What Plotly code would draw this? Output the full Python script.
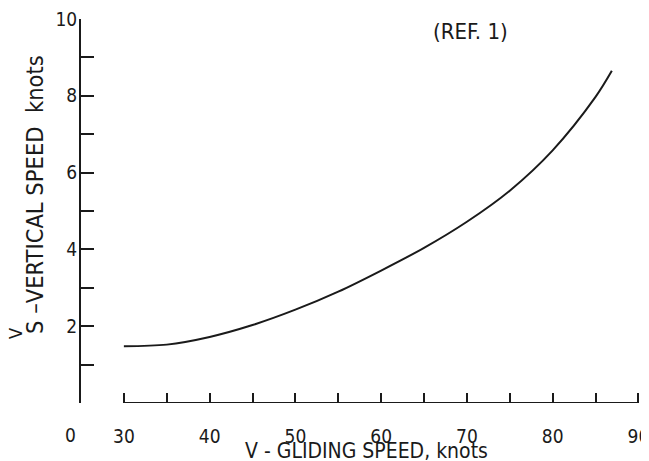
import plotly.graph_objects as go

# Data
glide_speed = [30, 35, 40, 45, 50, 55, 60, 65, 70, 75, 80, 85, 86.9]
vertical_speed = [1.48, 1.52, 1.72, 2.03, 2.43, 2.9, 3.45, 4.04, 4.72, 5.53, 6.58, 7.97, 8.65]

x_tickvals = [30, 35, 40, 45, 50, 55, 60, 65, 70, 75, 80, 85, 90]
x_ticktext = ["30", "", "40", "", "50", "", "60", "", "70", "", "80", "", "90"]
y_tickvals = [0, 1, 2, 3, 4, 5, 6, 7, 8, 9, 10]
y_ticktext = ["", "", "2", "", "4", "", "6", "", "8", "", "10"]

FONT = "Liberation Sans Narrow, DejaVu Sans Condensed, Arial Narrow, sans-serif"
INK = "#1a1a1a"

# the page body adds an 8 px margin, so the figure is sized to fit the window
W, H = 641, 453
ML, MR, MT, MB = 73, 2, 11, 58
PW = W - ML - MR  # plot width in px
PH = H - MT - MB  # plot height in px
X0, Y0 = 81, 403  # window px of plot-area left / bottom edges


def px(wx):
    return (wx - X0) / PW


def py(wy):
    return (Y0 - wy) / PH


fig = go.Figure()
fig.add_trace(go.Scatter(
    x=glide_speed, y=vertical_speed, mode="lines",
    line=dict(color=INK, width=2, shape="spline", smoothing=0.9),
    showlegend=False, hoverinfo="skip",
))

# broken x-axis line starting at 30
fig.add_shape(type="line", xref="x", yref="y", x0=30, x1=90, y0=0, y1=0,
              line=dict(color=INK, width=2))

fig.update_xaxes(
    range=[25, 91], showgrid=False, zeroline=False, showline=False,
    automargin=False,
    tickmode="array", tickvals=x_tickvals, ticktext=x_ticktext,
    ticks="inside", ticklen=10, tickwidth=1.5, tickcolor=INK,
    ticklabelstandoff=20, ticklabeloverflow="allow",
    tickfont=dict(family=FONT, size=19, color=INK),
)
fig.update_yaxes(
    range=[0, 10], showgrid=False, zeroline=False,
    automargin=False,
    showline=True, linecolor=INK, linewidth=2,
    tickmode="array", tickvals=y_tickvals, ticktext=y_ticktext,
    ticks="inside", ticklen=13, tickwidth=1.5, tickcolor=INK,
    ticklabelstandoff=-2, ticklabeloverflow="allow",
    tickfont=dict(family=FONT, size=19, color=INK),
)

# origin label "0"
fig.add_annotation(text="0", xref="paper", yref="paper", x=px(70), y=0,
                   yshift=-32, showarrow=False, xanchor="center", yanchor="middle",
                   font=dict(family=FONT, size=19, color=INK))
# x-axis title
fig.add_annotation(text="V - GLIDING SPEED, knots", xref="paper", yref="paper",
                   x=px(366), y=py(451),
                   showarrow=False, xanchor="center", yanchor="middle",
                   font=dict(family=FONT, size=21, color=INK))
# y-axis title (typewriter style: V raised, rest on subscript line)
fig.add_annotation(text="V", xref="paper", yref="paper", x=px(15), y=py(334),
                   textangle=-90, showarrow=False, xanchor="center", yanchor="middle",
                   font=dict(family=FONT, size=18, color=INK))
fig.add_annotation(text="S \u2013VERTICAL SPEED  knots", xref="paper", yref="paper",
                   x=px(35), y=py(195),
                   textangle=-90, showarrow=False, xanchor="center", yanchor="middle",
                   font=dict(family=FONT, size=23.5, color=INK))
fig.add_annotation(text="(REF. 1)", xref="paper", yref="paper",
                   x=px(470), y=py(32),
                   showarrow=False, xanchor="center", yanchor="middle",
                   font=dict(family=FONT, size=22, color=INK))

fig.update_layout(
    width=W, height=H,
    margin=dict(l=ML, r=MR, t=MT, b=MB),
    paper_bgcolor="white", plot_bgcolor="white",
)
fig.write_html("out.html")
